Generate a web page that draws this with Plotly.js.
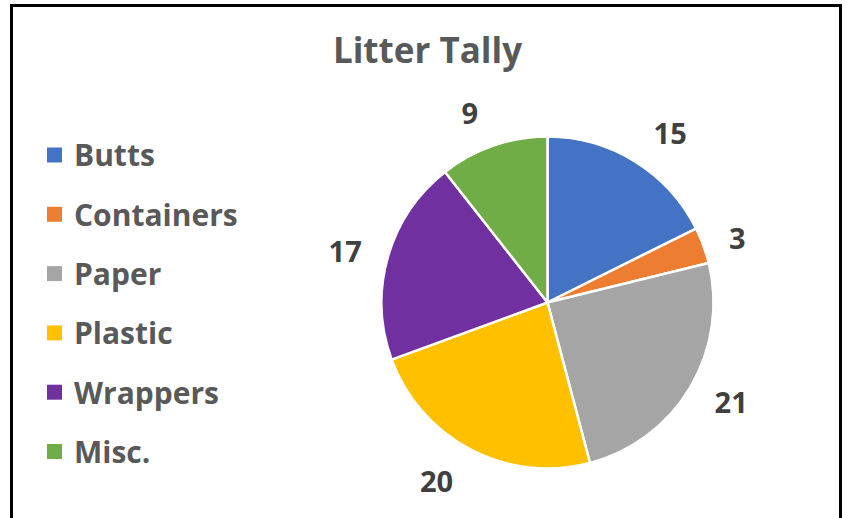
<!DOCTYPE html>
<html>
<head>
<meta charset="utf-8">
<script src="https://cdn.plot.ly/plotly-3.0.1.min.js"></script>
<style>
  html, body { margin: 0; padding: 0; background: #ffffff; overflow: hidden; }
  #chart { width: 847px; height: 518px; position: relative; }
  #frame { position: absolute; left: 10px; top: 4px; width: 832px; height: 530px;
           border: 3px solid #000000; box-sizing: border-box; pointer-events: none; }
</style>
</head>
<body>
<div id="chart"></div>
<div id="frame"></div>
<script>
const categories = ["Butts", "Containers", "Paper", "Plastic", "Wrappers", "Misc."];
const counts = [15, 3, 21, 20, 17, 9];
const sliceColors = ["#4472C4", "#ED7D31", "#A5A5A5", "#FFC000", "#7030A0", "#70AD47"];
const chartTitle = "Litter Tally";

const W = 847, H = 518;
const cx = 547.5, cy = 302.5, r = 166, rLabel = 183;
const FONT = "'Open Sans', Lato, sans-serif";

const pie = {
  type: "pie",
  labels: categories,
  values: counts,
  sort: false,
  direction: "clockwise",
  rotation: 0,
  marker: { colors: sliceColors, line: { color: "#ffffff", width: 2.5 } },
  textinfo: "none",
  hoverinfo: "label+value",
  domain: { x: [(cx - r) / W, (cx + r) / W], y: [1 - (cy + r) / H, 1 - (cy - r) / H] },
  showlegend: false
};

// transparent companion pie used only to place the value labels further out
const labelPie = {
  type: "pie",
  labels: categories,
  values: counts,
  sort: false,
  direction: "clockwise",
  rotation: 0,
  marker: { colors: categories.map(() => "rgba(0,0,0,0)"), line: { width: 0 } },
  textinfo: "value",
  textposition: "outside",
  outsidetextfont: { family: FONT, size: 29, color: "#404040", weight: "bold" },
  hoverinfo: "skip",
  domain: { x: [(cx - rLabel) / W, (cx + rLabel) / W], y: [1 - (cy + rLabel) / H, 1 - (cy - rLabel) / H] },
  showlegend: false
};

// manual legend built from the category arrays
const legX = 47, legY0 = 155, legStep = 59.3, sq = 15;
const shapes = [];
const annotations = [];
categories.forEach((c, i) => {
  const y = legY0 + i * legStep;
  shapes.push({
    type: "rect", xref: "paper", yref: "paper",
    x0: legX / W, x1: (legX + sq) / W,
    y0: 1 - (y + sq / 2) / H, y1: 1 - (y - sq / 2) / H,
    fillcolor: sliceColors[i], line: { width: 0 }
  });
  annotations.push({
    xref: "paper", yref: "paper", x: (legX + sq + 10) / W, y: 1 - y / H,
    xanchor: "left", yanchor: "middle", showarrow: false,
    text: "<b>" + c + "</b>",
    font: { family: FONT, size: 30, color: "#595959" }
  });
});

const layout = {
  width: W, height: H,
  margin: { l: 0, r: 0, t: 0, b: 0 },
  paper_bgcolor: "#ffffff",
  title: {
    text: "<b>" + chartTitle + "</b>",
    font: { family: FONT, size: 35, color: "#595959" },
    x: 427.5 / W, xanchor: "center", y: 1 - 51 / H, yanchor: "middle"
  },
  showlegend: false,
  shapes: shapes,
  annotations: annotations
};

Plotly.newPlot("chart", [pie, labelPie], layout, { displayModeBar: false, staticPlot: true });
</script>
</body>
</html>
